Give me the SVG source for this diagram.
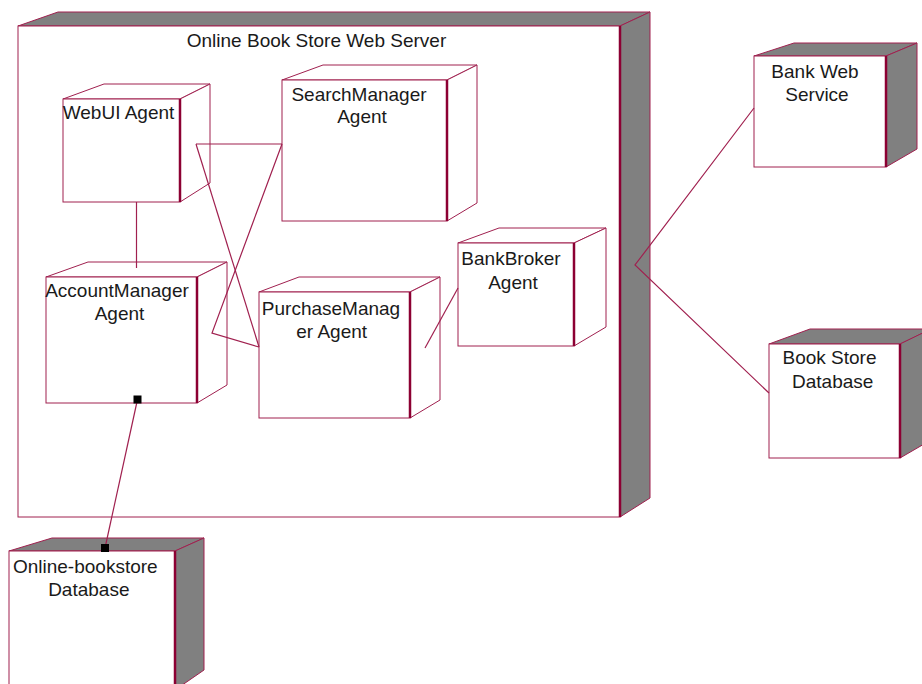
<svg xmlns="http://www.w3.org/2000/svg" width="922" height="684" viewBox="0 0 922 684">
  <style>
    .face { fill: #ffffff; stroke: #a0204f; stroke-width: 1; }
    .shade { fill: #808080; stroke: #a0204f; stroke-width: 1; }
    .edge { stroke: #8c0033; stroke-width: 2.5; }
    .wire { fill: none; stroke: #a0204f; stroke-width: 1.2; }
    .lbl { font-family: "Liberation Sans", Arial, sans-serif; font-size: 19px; fill: #1a1a1a; text-anchor: middle; }
  </style>
  <rect width="922" height="684" fill="#ffffff"/>

  <!-- web server node -->
  <g id="web-server">
    <polygon class="shade" points="18,26 58,12 650,12 620,26"/>
    <polygon class="shade" points="620,26 650,12 650,498 620,517"/>
    <rect class="face" x="18" y="26" width="602" height="491"/>
    <line class="edge" x1="620" y1="26" x2="620" y2="517"/>
    <text class="lbl" x="316.5" y="46.5">Online Book Store Web Server</text>
  </g>

  <g id="webui-agent">
    <polygon class="face" points="63,99 104,84 210,84 180,99"/>
    <polygon class="face" points="180,99 210,84 210,183 180,202"/>
    <rect class="face" x="63" y="99" width="117" height="103"/>
    <line class="edge" x1="180" y1="99" x2="180" y2="202"/>
    <text class="lbl" x="118.5" y="119">WebUI Agent</text>
  </g>

  <g id="searchmanager-agent">
    <polygon class="face" points="282,80 323,65 477,65 447,80"/>
    <polygon class="face" points="447,80 477,65 477,203 447,221"/>
    <rect class="face" x="282" y="80" width="165" height="141"/>
    <line class="edge" x1="447" y1="80" x2="447" y2="221"/>
    <text class="lbl" x="359" y="100.5">SearchManager</text>
    <text class="lbl" x="362" y="123">Agent</text>
  </g>

  <g id="accountmanager-agent">
    <polygon class="face" points="46,277 88,262 227,262 197,277"/>
    <polygon class="face" points="197,277 227,262 227,385 197,403"/>
    <rect class="face" x="46" y="277" width="151" height="126"/>
    <line class="edge" x1="197" y1="277" x2="197" y2="403"/>
    <text class="lbl" x="117" y="296.5">AccountManager</text>
    <text class="lbl" x="119.5" y="320">Agent</text>
  </g>

  <g id="purchasemanager-agent">
    <polygon class="face" points="259,292 299,277 440,277 410,292"/>
    <polygon class="face" points="410,292 440,277 440,400 410,418"/>
    <rect class="face" x="259" y="292" width="151" height="126"/>
    <line class="edge" x1="410" y1="292" x2="410" y2="418"/>
    <text class="lbl" x="331" y="315">PurchaseManag</text>
    <text class="lbl" x="331.7" y="337.5">er Agent</text>
  </g>

  <g id="bankbroker-agent">
    <polygon class="face" points="458,243 499,228 606,228 574,243"/>
    <polygon class="face" points="574,243 606,228 606,327 574,346"/>
    <rect class="face" x="458" y="243" width="116" height="103"/>
    <line class="edge" x1="574" y1="243" x2="574" y2="346"/>
    <text class="lbl" x="511" y="265">BankBroker</text>
    <text class="lbl" x="513" y="288.5">Agent</text>
  </g>

  <g id="bank-web-service">
    <polygon class="shade" points="754,56 794,43 917,43 886,56"/>
    <polygon class="shade" points="886,56 917,43 917,149 886,167"/>
    <rect class="face" x="754" y="56" width="132" height="111"/>
    <line class="edge" x1="886" y1="56" x2="886" y2="167"/>
    <text class="lbl" x="815" y="77.5">Bank Web</text>
    <text class="lbl" x="817" y="101">Service</text>
  </g>

  <g id="book-store-database">
    <polygon class="shade" points="769,344 810,329 931,329 900,344"/>
    <polygon class="shade" points="900,344 931,329 931,440 900,458"/>
    <rect class="face" x="769" y="344" width="131" height="114"/>
    <line class="edge" x1="900" y1="344" x2="900" y2="458"/>
    <text class="lbl" x="829.5" y="364">Book Store</text>
    <text class="lbl" x="832.7" y="387.5">Database</text>
  </g>

  <g id="online-bookstore-database">
    <polygon class="shade" points="9,551 52,538 204,538 175,551"/>
    <polygon class="shade" points="175,551 204,538 204,670 175,690"/>
    <rect class="face" x="9" y="551" width="166" height="150"/>
    <line class="edge" x1="175" y1="551" x2="175" y2="700"/>
    <text class="lbl" x="85.3" y="573">Online-bookstore</text>
    <text class="lbl" x="88.8" y="596">Database</text>
  </g>

  <!-- connections -->
  <g id="connectors">
    <line class="wire" x1="136.5" y1="202" x2="136.5" y2="268"/>
    <line class="wire" x1="196" y1="144" x2="282" y2="144"/>
    <line class="wire" x1="196" y1="144" x2="259" y2="347"/>
    <polyline class="wire" points="282,144 212,333 259,347"/>
    <line class="wire" x1="425" y1="348" x2="458" y2="288"/>
    <polyline class="wire" points="754,108 635,265 769,393"/>
    <line class="wire" x1="137.5" y1="399.5" x2="105" y2="548"/>
    <rect x="133.5" y="395.5" width="8" height="8" fill="#000000"/>
    <rect x="101" y="544" width="8" height="8" fill="#000000"/>
  </g>
</svg>
